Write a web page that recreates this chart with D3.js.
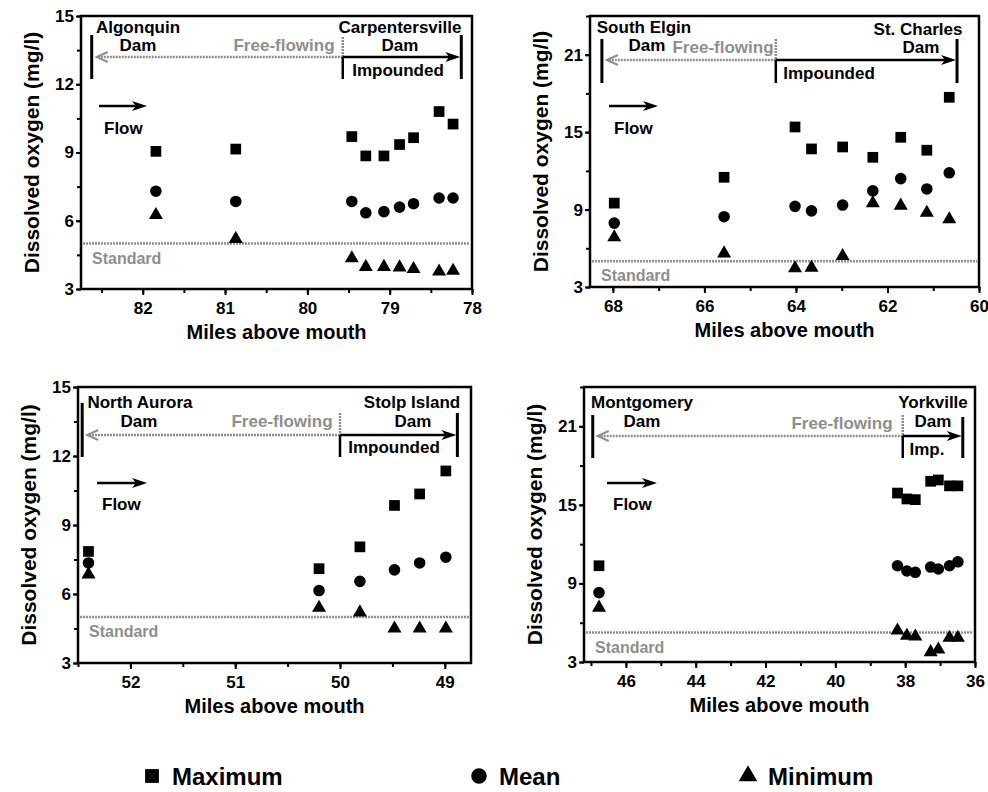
<!DOCTYPE html>
<html lang="en">
<head>
<meta charset="utf-8">
<script src="https://cdn.jsdelivr.net/npm/d3@7"></script>
<style>
  body { margin: 0; background: #fff; }
  svg { display: block; }
  text { font-family: "Liberation Sans", Arial, Helvetica, sans-serif; font-weight: bold; }
</style>
</head>
<body>
<script>
// Upper Fox River reaches: miles above mouth, DO max / mean / min (mg/l)
const p1Miles = [81.84, 80.87, 79.46, 79.29, 79.07, 78.88, 78.71, 78.40, 78.23];
const p1Max   = [9.05, 9.15, 9.7, 8.85, 8.85, 9.35, 9.65, 10.8, 10.25];
const p1Mean  = [7.3, 6.85, 6.85, 6.35, 6.4, 6.6, 6.75, 7.0, 7.0];
const p1Min   = [6.25, 5.2, 4.35, 3.97, 3.97, 3.95, 3.88, 3.77, 3.8];

const p2Miles = [67.97, 65.57, 64.02, 63.66, 62.98, 62.32, 61.71, 61.14, 60.65];
const p2Max   = [9.5, 11.5, 15.4, 13.7, 13.85, 13.05, 14.6, 13.6, 17.7];
const p2Mean  = [7.95, 8.45, 9.25, 8.9, 9.35, 10.45, 11.4, 10.6, 11.85];
const p2Min   = [6.85, 5.6, 4.45, 4.5, 5.4, 9.5, 9.3, 8.75, 8.25];

const p3Miles = [52.40, 50.20, 49.81, 49.48, 49.24, 48.99];
const p3Max   = [7.85, 7.1, 8.05, 9.85, 10.35, 11.35];
const p3Mean  = [7.35, 6.15, 6.55, 7.05, 7.35, 7.6];
const p3Min   = [6.85, 5.4, 5.2, 4.5, 4.5, 4.5];

const p4Miles = [46.77, 38.22, 37.95, 37.71, 37.27, 37.05, 36.73, 36.49];
const p4Max   = [10.35, 15.9, 15.45, 15.4, 16.8, 16.9, 16.45, 16.45];
const p4Mean  = [8.3, 10.35, 9.95, 9.85, 10.25, 10.1, 10.35, 10.65];
const p4Min   = [7.15, 5.4, 5.0, 4.95, 3.75, 3.95, 4.85, 4.85];

// tick labels
const p1XTicks = [82, 81, 80, 79, 78];
const p2XTicks = [68, 66, 64, 62, 60];
const p3XTicks = [52, 51, 50, 49];
const p4XTicks = [46, 44, 42, 40, 38, 36];
const yTicksLow  = [3, 6, 9, 12, 15];
const yTicksHigh = [3, 9, 15, 21];

// dams: upstream dam, free-flowing/impounded boundary, downstream dam (miles)
const upDamMile   = [82.62, 68.24, 52.46, 46.95];
const boundMile   = [79.57, 64.44, 50.0, 38.07];
const downDamMile = [78.13, 60.48, 48.88, 36.35];
const upDamName   = ["Algonquin", "South Elgin", "North Aurora", "Montgomery"];
const downDamName = ["Carpentersville", "St. Charles", "Stolp Island", "Yorkville"];
const impLabel    = ["Impounded", "Impounded", "Impounded", "Imp."];
const standardDO  = [5, 5, 5, 5.25];

const seriesNames = ["Maximum", "Mean", "Minimum"];

const W = 988, H = 792;
const svg = d3.select('body').append('svg').attr('width', W).attr('height', H);

const grey = '#8e8e8e';
const symSquare = d3.symbol().type(d3.symbolSquare).size(115);
const symCircle = d3.symbol().type(d3.symbolCircle).size(105);
const symTri = d3.symbol().type(d3.symbolTriangle).size(85);

// layout for each panel (pixels)
const panels = [
  { box: {l: 81, t: 16, r: 472, b: 289}, xDomain: [82.75, 78], yDomain: [3, 15],
    xTicks: p1XTicks, xMinor: 0.5, yTicks: yTicksLow, yMinor: 1.5,
    miles: p1Miles, max: p1Max, mean: p1Mean, min: p1Min,
    lay: { lTop: 19, rTop: 19, arrowY: 41, barBot: 63, greyTop: 21,
           up1: [57, 17], up2: [57, 35], ff: [203, 35], dn1: [319, 17], dn2: [319, 35], imp: [317, 60],
           flow: [18, 66, 90, 23, 118] } },
  { box: {l: 590, t: 16, r: 979, b: 287}, xDomain: [68.5, 60], yDomain: [3, 24],
    xTicks: p2XTicks, xMinor: 1, yTicks: yTicksHigh, yMinor: 3,
    miles: p2Miles, max: p2Max, mean: p2Mean, min: p2Min,
    lay: { lTop: 23, rTop: 23, arrowY: 44, barBot: 67, greyTop: 23,
           up1: [54, 17], up2: [57, 35], ff: [133, 37], dn1: [328, 19], dn2: [331, 37], imp: [239, 63],
           flow: [19, 68, 90, 24, 118] } },
  { box: {l: 78, t: 387, r: 471, b: 663}, xDomain: [52.5, 48.75], yDomain: [3, 15],
    xTicks: p3XTicks, xMinor: 0.5, yTicks: yTicksLow, yMinor: 1.5,
    miles: p3Miles, max: p3Max, mean: p3Mean, min: p3Min,
    lay: { lTop: 16, rTop: 26, arrowY: 48, barBot: 70, greyTop: 26,
           up1: [62, 21], up2: [61, 40], ff: [204, 40], dn1: [334, 21], dn2: [335, 40], imp: [316, 66],
           flow: [19, 69, 96, 24, 123] } },
  { box: {l: 584, t: 387, r: 975, b: 662}, xDomain: [47.2, 36], yDomain: [3, 24],
    xTicks: p4XTicks, xMinor: 1, yTicks: yTicksHigh, yMinor: 3,
    miles: p4Miles, max: p4Max, mean: p4Mean, min: p4Min,
    lay: { lTop: 28, rTop: 30, arrowY: 49, barBot: 71, greyTop: 28,
           up1: [58, 21], up2: [58, 40], ff: [258, 42], dn1: [349, 21], dn2: [349, 40], imp: [343, 68],
           flow: [23, 73, 96, 29, 123] } }
];

panels.forEach(function(p, i) {
  const b = p.box, L = p.lay;
  const x = d3.scaleLinear().domain(p.xDomain).range([b.l, b.r]);
  const y = d3.scaleLinear().domain(p.yDomain).range([b.b, b.t]);
  const g = svg.append('g');

  // minor ticks
  const xMin = d3.range(Math.ceil(p.xDomain[1] / p.xMinor) * p.xMinor, p.xDomain[0] + 1e-9, p.xMinor);
  const yMin = d3.range(p.yDomain[0], p.yDomain[1] + 1e-9, p.yMinor);
  g.append('g').attr('transform', 'translate(0,' + b.b + ')')
    .call(d3.axisBottom(x).tickValues(xMin).tickSize(4).tickFormat(''))
    .call(s => s.select('.domain').remove());
  g.append('g').attr('transform', 'translate(' + b.l + ',0)')
    .call(d3.axisLeft(y).tickValues(yMin).tickSize(4).tickFormat(''))
    .call(s => s.select('.domain').remove());

  // major ticks + labels
  const xa = g.append('g').attr('transform', 'translate(0,' + b.b + ')')
    .call(d3.axisBottom(x).tickValues(p.xTicks).tickSize(6).tickPadding(7).tickFormat(d3.format('d')));
  const ya = g.append('g').attr('transform', 'translate(' + b.l + ',0)')
    .call(d3.axisLeft(y).tickValues(p.yTicks).tickSize(5).tickPadding(2).tickFormat(d3.format('d')));
  [xa, ya].forEach(function(a) {
    a.select('.domain').remove();
    a.selectAll('text').attr('font-size', 17).attr('fill', '#000')
      .attr('font-family', '"Liberation Sans", Arial, sans-serif').attr('font-weight', 'bold');
  });
  g.selectAll('.tick line').attr('stroke', '#000').attr('stroke-width', 2);

  // frame
  g.append('rect').attr('x', b.l).attr('y', b.t).attr('width', b.r - b.l).attr('height', b.b - b.t)
    .attr('fill', 'none').attr('stroke', '#000').attr('stroke-width', 2.5);

  // axis titles
  g.append('text').attr('transform', 'translate(' + (b.l - 49) + ',' + ((b.t + b.b) / 2) + ') rotate(-90)')
    .attr('text-anchor', 'middle').attr('dy', '0.35em').attr('font-size', 21).text('Dissolved oxygen (mg/l)');
  g.append('text').attr('x', (b.l + b.r) / 2).attr('y', b.b + 50)
    .attr('text-anchor', 'middle').attr('font-size', 20).text('Miles above mouth');

  // standard line
  const ys = y(standardDO[i]);
  g.append('line').attr('x1', b.l + 2).attr('x2', b.r - 2).attr('y1', ys).attr('y2', ys)
    .attr('stroke', grey).attr('stroke-width', 2.5).attr('stroke-dasharray', '2,1');
  g.append('text').attr('x', b.l + 11).attr('y', ys + 20).attr('font-size', 16)
    .attr('font-weight', 'normal').attr('fill', grey).text('Standard');

  // dam markers
  const xu = x(upDamMile[i]), xb = x(boundMile[i]), xd = x(downDamMile[i]);
  const ay = b.t + L.arrowY;
  g.append('line').attr('x1', xu).attr('x2', xu).attr('y1', b.t + L.lTop).attr('y2', b.t + L.barBot)
    .attr('stroke', '#000').attr('stroke-width', 3);
  g.append('line').attr('x1', xd).attr('x2', xd).attr('y1', b.t + L.rTop).attr('y2', b.t + L.barBot)
    .attr('stroke', '#000').attr('stroke-width', 3);
  // free-flowing (grey, pointing upstream)
  g.append('line').attr('x1', xb).attr('x2', xu + 6).attr('y1', ay).attr('y2', ay)
    .attr('stroke', grey).attr('stroke-width', 2.5).attr('stroke-dasharray', '2,1');
  g.append('path').attr('d', 'M' + (xu + 16) + ',' + (ay - 5) + 'L' + (xu + 5) + ',' + ay + 'L' + (xu + 16) + ',' + (ay + 5))
    .attr('fill', 'none').attr('stroke', grey).attr('stroke-width', 2);
  g.append('line').attr('x1', xb).attr('x2', xb).attr('y1', b.t + L.greyTop).attr('y2', ay)
    .attr('stroke', grey).attr('stroke-width', 2.5).attr('stroke-dasharray', '2,1');
  // impounded (black, pointing downstream)
  g.append('line').attr('x1', xb).attr('x2', xb).attr('y1', ay).attr('y2', b.t + L.barBot)
    .attr('stroke', '#000').attr('stroke-width', 2.5);
  g.append('line').attr('x1', xb).attr('x2', xd - 8).attr('y1', ay).attr('y2', ay)
    .attr('stroke', '#000').attr('stroke-width', 2.5);
  g.append('path').attr('d', 'M' + (xd - 1) + ',' + ay + 'L' + (xd - 16) + ',' + (ay - 5) + 'L' + (xd - 12) + ',' + ay + 'L' + (xd - 16) + ',' + (ay + 5) + 'Z')
    .attr('fill', '#000');

  const label = function(pos, txt, anchor) {
    return g.append('text').attr('x', b.l + pos[0]).attr('y', b.t + pos[1])
      .attr('text-anchor', anchor || 'middle').attr('font-size', 17).text(txt);
  };
  label(L.up1, upDamName[i]);
  label(L.up2, 'Dam');
  label(L.dn1, downDamName[i]);
  label(L.dn2, 'Dam');
  label(L.imp, impLabel[i]);
  label(L.ff, 'Free-flowing').attr('fill', grey).attr('font-weight', 'normal');

  // flow arrow
  const f = L.flow;
  g.append('line').attr('x1', b.l + f[0]).attr('x2', b.l + f[1] - 8).attr('y1', b.t + f[2]).attr('y2', b.t + f[2])
    .attr('stroke', '#000').attr('stroke-width', 2.5);
  g.append('path').attr('d', 'M' + (b.l + f[1]) + ',' + (b.t + f[2]) + 'l-15,-5l4,5l-4,5Z').attr('fill', '#000');
  label([f[3], f[4]], 'Flow', 'start');

  // data points
  const pts = g.append('g');
  pts.selectAll('path.max').data(p.miles.map((m, k) => [m, p.max[k]])).enter().append('path')
    .attr('class', 'max').attr('d', symSquare)
    .attr('transform', d => 'translate(' + x(d[0]) + ',' + y(d[1]) + ')');
  pts.selectAll('path.mean').data(p.miles.map((m, k) => [m, p.mean[k]])).enter().append('path')
    .attr('class', 'mean').attr('d', symCircle)
    .attr('transform', d => 'translate(' + x(d[0]) + ',' + y(d[1]) + ')');
  pts.selectAll('path.min').data(p.miles.map((m, k) => [m, p.min[k]])).enter().append('path')
    .attr('class', 'min').attr('d', symTri)
    .attr('transform', d => 'translate(' + x(d[0]) + ',' + y(d[1]) + ')');
  pts.selectAll('path').attr('fill', '#000');
});

// legend
const legX = [152, 479, 748];
const legSym = [d3.symbolSquare, d3.symbolCircle, d3.symbolTriangle];
const legSize = [190, 190, 150];
const leg = svg.append('g').selectAll('g').data(seriesNames).enter().append('g')
  .attr('transform', (d, k) => 'translate(' + legX[k] + ',776)');
leg.append('path').attr('d', (d, k) => d3.symbol().type(legSym[k]).size(legSize[k])()).attr('fill', '#000');
leg.append('text').attr('x', 20).attr('dy', '0.36em').attr('font-size', 24).text(d => d);
</script>
</body>
</html>
